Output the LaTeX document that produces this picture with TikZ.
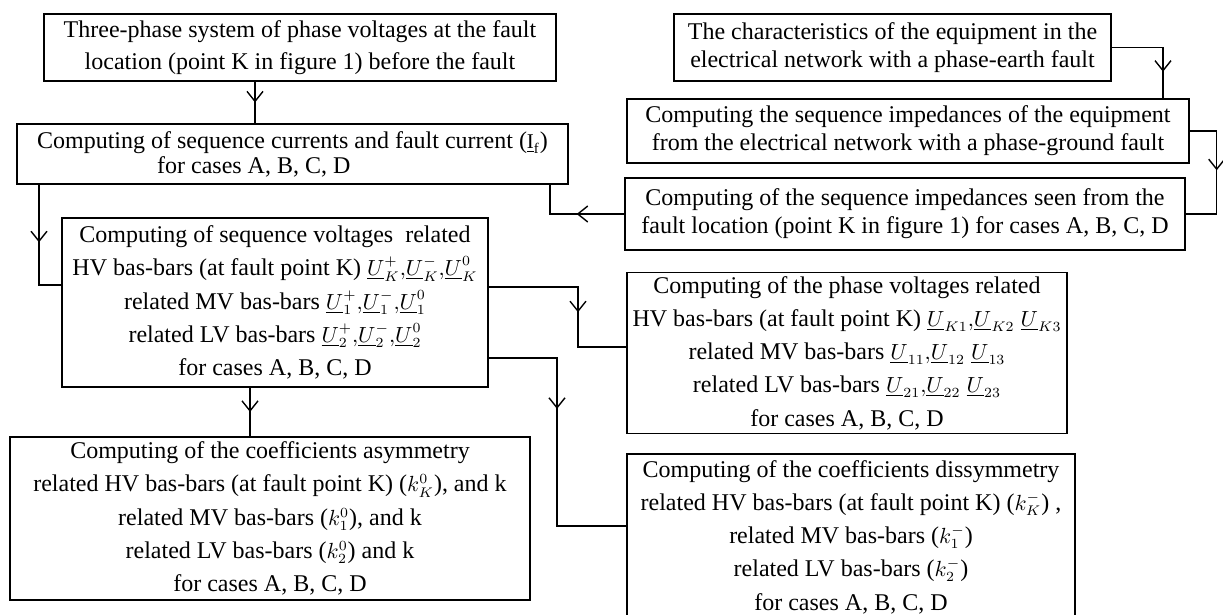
\documentclass[tikz,border=0pt]{standalone}
\usepackage{fontspec}
\setmainfont{Liberation Serif}
\usetikzlibrary{arrows.meta,decorations.markings}
\newcommand{\mth}[1]{{\fontsize{10.5}{12}\selectfont$#1$}}

\begin{document}
\begin{tikzpicture}[x=0.5pt,y=-0.5pt,
  every node/.style={align=center},
  box/.style={draw, line width=0.7pt, inner xsep=1pt, inner ysep=2pt, font=\fontsize{12}{16.2}\selectfont},
  tight/.style={font=\fontsize{12}{14}\selectfont},
  tall/.style={font=\fontsize{12}{16.6}\selectfont},
  conn/.style={line width=0.7pt, postaction={decorate},
    decoration={markings, mark=at position #1 with {\arrow{Straight Barb[length=5pt,width=8pt]}}}},
  conn/.default=0.5]
\useasboundingbox (0,0) rectangle (1223,615);

% left column
\node[box, minimum width=256pt, minimum height=33.5pt] (A) at (300,47.5) {Three-phase system of phase voltages at the fault\\location (point K in figure 1) before the fault};
\node[box, align=left, minimum width=275.5pt, minimum height=30pt, font=\fontsize{12}{12.5}\selectfont] (B) at (292.5,154) {Computing of sequence currents and fault current (\mth{\underline{\mathrm{I}}_{\mathrm{f}}})\\\hspace*{60pt}for cases A, B, C, D};
\node[box, tall, minimum width=213pt, minimum height=84.5pt] (F) at (275,302.5) {Computing of sequence voltages\ \ related\\HV bas-bars (at fault point K) \mth{\underline{U}_K^+{,}\underline{U}_K^-{,}\underline{U}_K^0}\\related MV bas-bars \mth{\underline{U}_1^+{,}\underline{U}_1^-{,}\underline{U}_1^0}\\related LV bas-bars \mth{\underline{U}_2^+{,}\underline{U}_2^-{,}\underline{U}_2^0}\\for cases A, B, C, D};
\node[box, tall, minimum width=260pt, minimum height=81.5pt] (I) at (270,518.5) {Computing of the coefficients asymmetry\\related HV bas-bars (at fault point K) (\mth{k_K^0}), and k\\related MV bas-bars (\mth{k_1^0}), and k\\related LV bas-bars (\mth{k_2^0}) and k\\for cases A, B, C, D};

% right column
\node[box, tight, minimum width=218.5pt, minimum height=33.5pt] (C) at (892.5,47.5) {The characteristics of the equipment in the\\electrical network with a phase-earth fault};
\node[box, tight, minimum width=281pt, minimum height=32pt] (D) at (908,131) {Computing the sequence impedances of the equipment\\from the electrical network with a phase-ground fault};
\node[box, tight, minimum width=280pt, minimum height=36pt] (E) at (905,214) {Computing of the sequence impedances seen from the\\fault location (point K in figure 1) for cases A, B, C, D};
\node[box, tall, minimum width=220pt, minimum height=80pt] (G) at (847,353) {Computing of the phase voltages related\\HV bas-bars (at fault point K) \mth{\underline{U}_{K1}{,}\underline{U}_{K2}\;\underline{U}_{K3}}\\related MV bas-bars \mth{\underline{U}_{11}{,}\underline{U}_{12}\;\underline{U}_{13}}\\related LV bas-bars \mth{\underline{U}_{21}{,}\underline{U}_{22}\;\underline{U}_{23}}\\for cases A, B, C, D};
\node[box, tall, minimum width=224pt, minimum height=83pt] (H) at (851,537) {Computing of the coefficients dissymmetry\\related HV bas-bars (at fault point K) (\mth{k_K^-}) ,\\related MV bas-bars (\mth{k_1^-})\\related LV bas-bars (\mth{k_2^-})\\for cases A, B, C, D};

% connectors
\draw[conn] (A.south -| 255,0) -- (B.north -| 255,0);
\draw[conn=0.74] (C.east) -| (D.north -| 1163,0);
\draw[conn=0.47] (D.east) -- ++(27,0) |- (E.east);
\draw[conn=0.46] (E.west) -| (B.south -| 550,0);
\draw[conn=0.47] (B.south -| 39,0) |- (F.west |- 0,285);
\draw[conn=0.58] (F.east |- 0,287) -| (578,347) -- (G.west |- 0,347);
\draw[conn=0.39] (F.east |- 0,358) -| (557,526) -- (H.west |- 0,526);
\draw[conn] (F.south -| 250,0) -- (I.north -| 250,0);
\end{tikzpicture}
\end{document}
